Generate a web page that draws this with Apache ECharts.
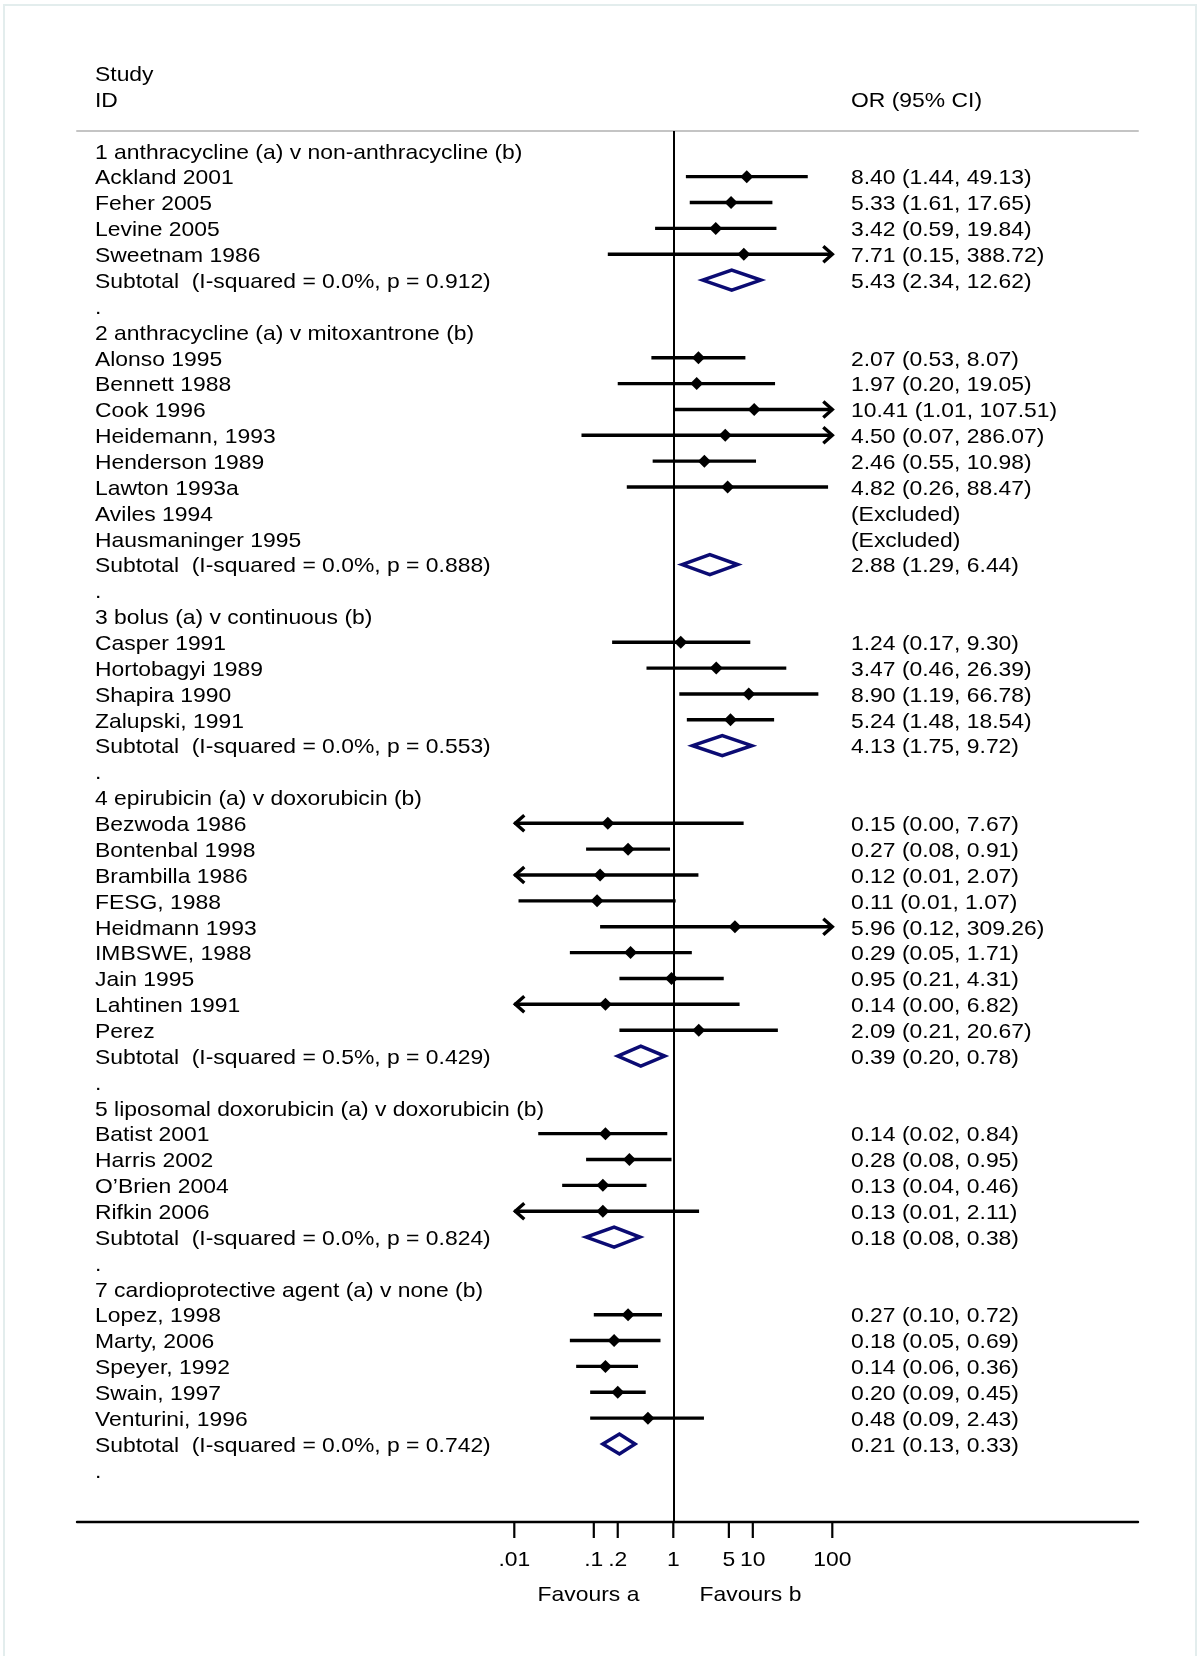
<!DOCTYPE html>
<html>
<head>
<meta charset="utf-8">
<script src="https://cdn.jsdelivr.net/npm/echarts@6/dist/echarts.min.js"></script>
<style>
html,body{margin:0;padding:0;background:#fff;}
#chart{width:1200px;height:1656px;}
</style>
</head>
<body>
<div id="chart"></div>
<script>
// ---------------- DATA ----------------
const groupTitles = [
  '1 anthracycline (a) v non-anthracycline (b)',
  '2 anthracycline (a) v mitoxantrone (b)',
  '3 bolus (a) v continuous (b)',
  '4 epirubicin (a) v doxorubicin (b)',
  '5 liposomal doxorubicin (a) v doxorubicin (b)',
  '7 cardioprotective agent (a) v none (b)'
];
const studyNames = [
  ['Ackland 2001', 'Feher 2005', 'Levine 2005', 'Sweetnam 1986'],
  ['Alonso 1995', 'Bennett 1988', 'Cook 1996', 'Heidemann, 1993', 'Henderson 1989', 'Lawton 1993a', 'Aviles 1994', 'Hausmaninger 1995'],
  ['Casper 1991', 'Hortobagyi 1989', 'Shapira 1990', 'Zalupski, 1991'],
  ['Bezwoda 1986', 'Bontenbal 1998', 'Brambilla 1986', 'FESG, 1988', 'Heidmann 1993', 'IMBSWE, 1988', 'Jain 1995', 'Lahtinen 1991', 'Perez'],
  ['Batist 2001', 'Harris 2002', 'O\u2019Brien 2004', 'Rifkin 2006'],
  ['Lopez, 1998', 'Marty, 2006', 'Speyer, 1992', 'Swain, 1997', 'Venturini, 1996']
];
// null = excluded study
const studyOR = [
  [8.40, 5.33, 3.42, 7.71],
  [2.07, 1.97, 10.41, 4.50, 2.46, 4.82, null, null],
  [1.24, 3.47, 8.90, 5.24],
  [0.15, 0.27, 0.12, 0.11, 5.96, 0.29, 0.95, 0.14, 2.09],
  [0.14, 0.28, 0.13, 0.13],
  [0.27, 0.18, 0.14, 0.20, 0.48]
];
const studyLo = [
  [1.44, 1.61, 0.59, 0.15],
  [0.53, 0.20, 1.01, 0.07, 0.55, 0.26, null, null],
  [0.17, 0.46, 1.19, 1.48],
  [0.0029, 0.08, 0.0069, 0.0113, 0.12, 0.05, 0.21, 0.0029, 0.21],
  [0.02, 0.08, 0.04, 0.008],
  [0.10, 0.05, 0.06, 0.09, 0.09]
];
const studyHi = [
  [49.13, 17.65, 19.84, 388.72],
  [8.07, 19.05, 107.51, 286.07, 10.98, 88.47, null, null],
  [9.30, 26.39, 66.78, 18.54],
  [7.67, 0.91, 2.07, 1.07, 309.26, 1.71, 4.31, 6.82, 20.67],
  [0.84, 0.95, 0.46, 2.11],
  [0.72, 0.69, 0.36, 0.45, 2.43]
];
const subtotalI2 = ['0.0', '0.0', '0.0', '0.5', '0.0', '0.0'];
const subtotalP  = ['0.912', '0.888', '0.553', '0.429', '0.824', '0.742'];
const subtotalOR = [5.43, 2.88, 4.13, 0.39, 0.18, 0.21];
const subtotalLo = [2.34, 1.29, 1.75, 0.20, 0.08, 0.13];
const subtotalHi = [12.62, 6.44, 9.72, 0.78, 0.38, 0.33];
const tickValues = [0.01, 0.1, 0.2, 1, 5, 10, 100];
const tickLabels = ['.01', '.1', '.2', '1', '5', '10', '100'];
const plotMin = 0.01, plotMax = 100;

// ---------------- LAYOUT ----------------
const GRID_L = 77, GRID_R = 1138, GRID_T = 131, GRID_B = 1522;
const ONE_X = 673.3, DECADE = 79.5;
const ROW0 = 150.8, ROW_H = 25.864;
const LEFT_X = 95, RIGHT_X = 851;
const FONT = '21px "Liberation Sans", Arial, Helvetica, sans-serif';
const SX = 1.09;
const NAVY = '#0b0b73';

const xMin = Math.pow(10, (GRID_L - ONE_X) / DECADE);
const xMax = Math.pow(10, (GRID_R - ONE_X) / DECADE);
const yMin = -(ROW0 - GRID_T) / ROW_H;
const yMax = yMin + (GRID_B - GRID_T) / ROW_H;

// build rows
const rows = [];
groupTitles.forEach((t, g) => {
  rows.push({type: 'title', label: t});
  studyNames[g].forEach((n, k) => {
    const or = studyOR[g][k];
    if (or === null) {
      rows.push({type: 'excluded', label: n, right: '(Excluded)'});
    } else {
      const lo = studyLo[g][k], hi = studyHi[g][k];
      rows.push({type: 'study', label: n, or, lo, hi,
        right: or.toFixed(2) + ' (' + lo.toFixed(2) + ', ' + hi.toFixed(2) + ')'});
    }
  });
  rows.push({type: 'subtotal',
    label: 'Subtotal  (I-squared = ' + subtotalI2[g] + '%, p = ' + subtotalP[g] + ')',
    or: subtotalOR[g], lo: subtotalLo[g], hi: subtotalHi[g],
    right: subtotalOR[g].toFixed(2) + ' (' + subtotalLo[g].toFixed(2) + ', ' + subtotalHi[g].toFixed(2) + ')'});
  rows.push({type: 'blank', label: '.'});
});

function txt(s, x, y, align) {
  return {type: 'text', x: x, y: y, scaleX: SX,
    style: {text: s, x: 0, y: 0, fill: '#000', font: FONT, align: align || 'left', verticalAlign: 'middle'}};
}

function renderRow(params, api) {
  const i = params.dataIndex;
  const r = rows[i];
  const yc = api.coord([1, i])[1];
  const ch = [];
  ch.push(txt(r.label, LEFT_X, yc + 2));
  if (r.right) ch.push(txt(r.right, RIGHT_X, yc + 2));
  if (r.type === 'study') {
    const x1 = api.coord([Math.max(r.lo, plotMin), i])[0];
    const x2 = api.coord([Math.min(r.hi, plotMax), i])[0];
    const xm = api.coord([r.or, i])[0];
    const ls = {stroke: '#000', lineWidth: 3.4};
    ch.push({type: 'line', shape: {x1: x1, y1: yc, x2: x2, y2: yc}, style: ls});
    if (r.lo < plotMin) {
      ch.push({type: 'polyline', shape: {points: [[x1 + 10, yc - 8], [x1 + 1, yc], [x1 + 10, yc + 8]]},
        style: {stroke: '#000', lineWidth: 3.4, fill: null}});
    }
    if (r.hi > plotMax) {
      ch.push({type: 'polyline', shape: {points: [[x2 - 9, yc - 8], [x2, yc], [x2 - 9, yc + 8]]},
        style: {stroke: '#000', lineWidth: 3.4, fill: null}});
    }
    ch.push({type: 'polygon', shape: {points: [[xm - 6.5, yc], [xm, yc - 6.5], [xm + 6.5, yc], [xm, yc + 6.5]]},
      style: {fill: '#000'}});
  } else if (r.type === 'subtotal') {
    const x1 = api.coord([r.lo, i])[0];
    const x2 = api.coord([r.hi, i])[0];
    const xm = api.coord([r.or, i])[0];
    ch.push({type: 'polygon', shape: {points: [[x1, yc], [xm, yc - 10], [x2, yc], [xm, yc + 10]]},
      style: {fill: '#fff', stroke: NAVY, lineWidth: 3.5, lineJoin: 'miter'}});
  }
  return {type: 'group', children: ch};
}

function renderTick(params, api) {
  const v = tickValues[params.dataIndex];
  const p = api.coord([v, yMax]);
  return {type: 'group', children: [
    {type: 'line', shape: {x1: p[0], y1: p[1], x2: p[0], y2: p[1] + 16}, style: {stroke: '#000', lineWidth: 2.2}},
    txt(tickLabels[params.dataIndex], p[0], p[1] + 38, 'center')
  ]};
}

const chart = echarts.init(document.getElementById('chart'), null, {renderer: 'canvas'});
chart.setOption({
  backgroundColor: '#fff',
  animation: false,
  grid: {left: GRID_L, right: 1200 - GRID_R, top: GRID_T, bottom: 1656 - GRID_B, containLabel: false},
  xAxis: [
    {type: 'log', logBase: 10, min: xMin, max: xMax, position: 'bottom',
      axisLine: {show: true, onZero: false, lineStyle: {color: '#000', width: 2.4}},
      axisTick: {show: false}, axisLabel: {show: false}, splitLine: {show: false}},
    {type: 'log', logBase: 10, min: xMin, max: xMax, position: 'top',
      axisLine: {show: true, onZero: false, lineStyle: {color: '#c4c4c4', width: 2}},
      axisTick: {show: false}, axisLabel: {show: false}, splitLine: {show: false}}
  ],
  yAxis: {type: 'value', inverse: true, min: yMin, max: yMax, show: false},
  graphic: [
    {type: 'rect', shape: {x: 4, y: 5, width: 1192, height: 1680}, style: {fill: null, stroke: '#e3eded', lineWidth: 2}, silent: true},
    txt('Study', LEFT_X, 75),
    txt('ID', LEFT_X, 101),
    txt('OR (95% CI)', RIGHT_X, 101),
    txt('Favours a', 588.5, 1595, 'center'),
    txt('Favours b', 750.5, 1595, 'center')
  ],
  series: [
    {type: 'custom', coordinateSystem: 'cartesian2d', clip: false,
      data: rows.map((r, i) => [1, i]),
      renderItem: renderRow,
      markLine: {silent: true, symbol: 'none', label: {show: false},
        lineStyle: {color: '#000', width: 2, type: 'solid'},
        data: [{xAxis: 1}]}},
    {type: 'custom', coordinateSystem: 'cartesian2d', clip: false,
      data: tickValues.map(v => [v, yMax]),
      renderItem: renderTick}
  ]
});
</script>
</body>
</html>
